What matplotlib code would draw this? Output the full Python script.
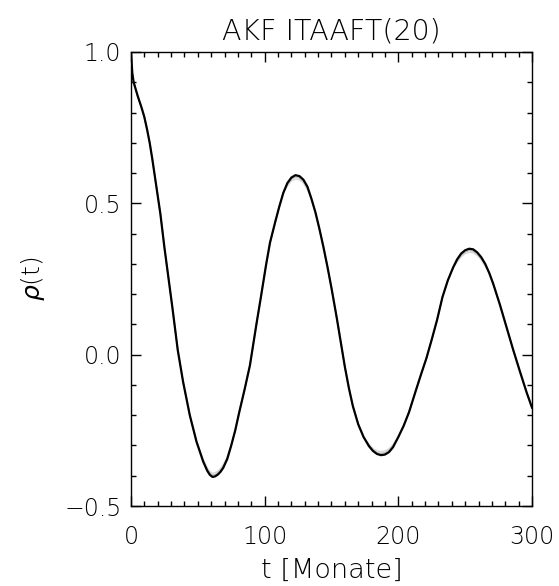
import numpy as np
import matplotlib.pyplot as plt
from matplotlib.ticker import MultipleLocator, FuncFormatter

# lag in months
t = [0, 1, 2, 5, 8, 10, 12, 14, 16, 18, 20, 22, 25, 28, 31, 35, 39, 44, 49, 54,
     57, 59, 61, 63, 65, 67, 69, 72, 75, 78, 81, 85, 89, 94, 97, 101, 104, 108,
     111, 114, 117, 120, 123, 126, 129, 132, 135, 138, 141, 144, 147, 150, 154,
     157, 160, 163, 166, 170, 174, 178, 181, 184, 187, 190, 193, 196, 200, 204,
     208, 213, 217, 221, 225, 229, 233, 237, 241, 244, 247, 250, 253, 256, 259,
     262, 265, 268, 271, 276, 281, 286, 291, 296, 300]

# autocorrelation of the data (black)
rho = [1.00, 0.93, 0.90, 0.855, 0.815, 0.785, 0.745, 0.70, 0.645, 0.585,
       0.525, 0.465, 0.355, 0.255, 0.155, 0.015, -0.09, -0.20, -0.287, -0.353,
       -0.383, -0.397, -0.404, -0.402, -0.396, -0.387, -0.374, -0.345, -0.30, -0.25,
       -0.19, -0.115, -0.035, 0.105, 0.185, 0.295, 0.37, 0.44, 0.49, 0.535,
       0.567, 0.585, 0.593, 0.590, 0.578, 0.555, 0.515, 0.47, 0.415, 0.355,
       0.29, 0.22, 0.12, 0.04, -0.04, -0.11, -0.17, -0.23, -0.272, -0.302,
       -0.318, -0.328, -0.332, -0.330, -0.322, -0.306, -0.272, -0.235, -0.19, -0.12,
       -0.065, -0.012, 0.05, 0.115, 0.19, 0.245, 0.288, 0.315, 0.334, 0.345,
       0.350, 0.348, 0.338, 0.322, 0.30, 0.27, 0.234, 0.165, 0.09, 0.015,
       -0.056, -0.125, -0.175]

# surrogates (light grey), mostly hidden below the black line
rho_s1 = [1.00, 0.93, 0.90, 0.855, 0.815, 0.785, 0.745, 0.70, 0.645, 0.585,
          0.525, 0.465, 0.355, 0.255, 0.155, 0.015, -0.09, -0.20, -0.287, -0.345,
          -0.373, -0.386, -0.392, -0.390, -0.385, -0.376, -0.364, -0.337, -0.30, -0.25,
          -0.19, -0.115, -0.035, 0.105, 0.185, 0.295, 0.37, 0.44, 0.49, 0.535,
          0.557, 0.574, 0.580, 0.578, 0.567, 0.545, 0.515, 0.47, 0.415, 0.355,
          0.29, 0.22, 0.12, 0.04, -0.04, -0.11, -0.17, -0.23, -0.272, -0.295,
          -0.310, -0.318, -0.320, -0.318, -0.311, -0.297, -0.272, -0.235, -0.19, -0.12,
          -0.065, -0.012, 0.05, 0.115, 0.19, 0.245, 0.288, 0.305, 0.323, 0.334,
          0.338, 0.337, 0.328, 0.313, 0.292, 0.27, 0.234, 0.165, 0.09, 0.015,
          -0.056, -0.125, -0.175]
rho_s2 = [1.00, 0.93, 0.90, 0.855, 0.815, 0.785, 0.745, 0.70, 0.645, 0.585,
          0.525, 0.465, 0.355, 0.255, 0.155, 0.015, -0.09, -0.20, -0.287, -0.349,
          -0.378, -0.391, -0.398, -0.396, -0.390, -0.381, -0.369, -0.341, -0.30, -0.25,
          -0.19, -0.115, -0.035, 0.105, 0.185, 0.295, 0.37, 0.44, 0.49, 0.535,
          0.562, 0.580, 0.587, 0.584, 0.572, 0.550, 0.515, 0.47, 0.415, 0.355,
          0.29, 0.22, 0.12, 0.04, -0.04, -0.11, -0.17, -0.23, -0.272, -0.298,
          -0.314, -0.323, -0.326, -0.324, -0.316, -0.301, -0.272, -0.235, -0.19, -0.12,
          -0.065, -0.012, 0.05, 0.115, 0.19, 0.245, 0.288, 0.310, 0.328, 0.339,
          0.344, 0.342, 0.333, 0.317, 0.296, 0.27, 0.234, 0.165, 0.09, 0.015,
          -0.056, -0.125, -0.175]

plt.rcParams['font.family'] = ['DejaVu Sans']
plt.rcParams['font.weight'] = 'light'

fig = plt.figure(figsize=(5.59, 5.86), dpi=100)
ax = fig.add_axes([0.2343, 0.1365, 0.7174, 0.7748])

ax.plot(t, rho_s1, color='#d8d8d8', lw=1.0)
ax.plot(t, rho_s2, color='#bdbdbd', lw=1.0)
ax.plot(t, rho, color='black', lw=1.6)

ax.set_xlim(0, 300)
ax.set_ylim(-0.5, 1.0)
ax.xaxis.set_major_locator(MultipleLocator(100))
ax.xaxis.set_minor_locator(MultipleLocator(10))
ax.yaxis.set_major_locator(MultipleLocator(0.5))
ax.yaxis.set_minor_locator(MultipleLocator(0.1))
ax.yaxis.set_major_formatter(FuncFormatter(lambda v, p: ('%.1f' % v).replace('-', '\u2212')))

ax.tick_params(which='both', direction='in', top=True, right=True, width=1,
               labelsize=17, colors='black')
ax.tick_params(which='major', length=7)
ax.tick_params(which='minor', length=3.5)
ax.tick_params(axis='x', which='major', pad=14)
ax.tick_params(axis='y', which='major', pad=7)
for lab in ax.get_xticklabels() + ax.get_yticklabels():
    lab.set_fontweight('light')
for s in ax.spines.values():
    s.set_linewidth(1)

ax.set_title('AKF ITAAFT(20)', fontsize=20.5, pad=9, fontweight='light')
ax.set_xlabel('t [Monate]', fontsize=19.5, labelpad=6, fontweight='light')
ax.set_ylabel(r'$\rho$(t)', fontsize=18, labelpad=12, fontweight='light')

fig.savefig('out.png', dpi=100)
